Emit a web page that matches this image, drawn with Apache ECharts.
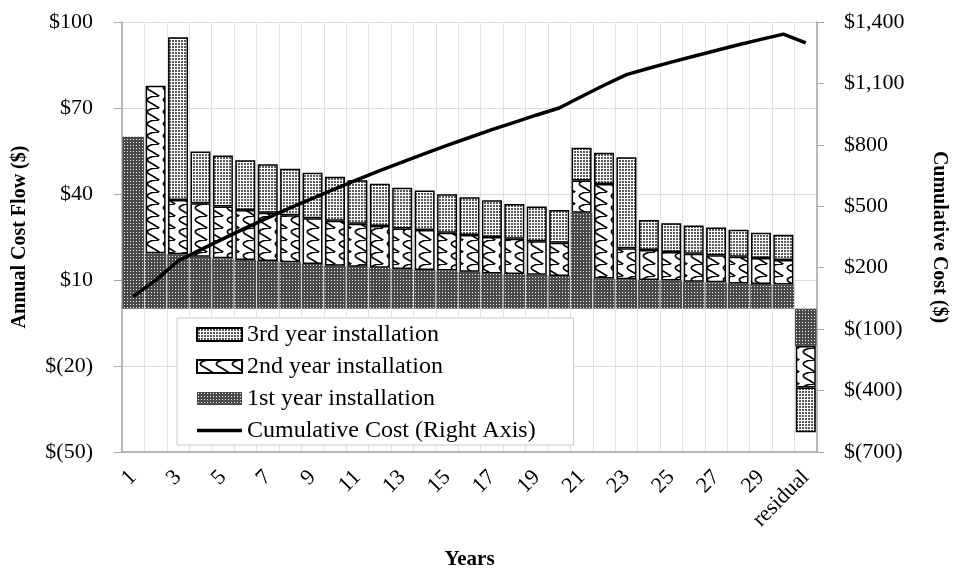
<!DOCTYPE html>
<html>
<head>
<meta charset="utf-8">
<script src="https://cdn.jsdelivr.net/npm/echarts@6/dist/echarts.min.js"></script>
<style>
html,body{margin:0;padding:0;background:#fff;}
#chart{width:953px;height:572px;}
</style>
</head>
<body>
<div id="chart"></div>
<script>
var categories = ['1','2','3','4','5','6','7','8','9','10','11','12','13','14','15','16','17','18','19','20','21','22','23','24','25','26','27','28','29','30','residual'];
var firstYear = [60.0, 19.3, 19.0, 18.1, 17.6, 17.0, 16.6, 16.2, 15.6, 15.0, 14.6, 14.3, 13.8, 13.5, 13.3, 12.9, 12.3, 12.1, 11.8, 11.4, 33.5, 10.5, 10.3, 10.0, 9.8, 9.4, 9.2, 8.8, 8.6, 8.4, -13.0];
var secondYear = [null, 58.5, 18.9, 18.7, 18.0, 17.4, 16.9, 16.4, 15.9, 15.7, 15.0, 14.5, 14.2, 13.9, 13.2, 12.8, 12.7, 12.3, 11.7, 11.6, 11.2, 33.0, 10.8, 10.5, 10.0, 9.8, 9.4, 9.3, 9.1, 8.6, -14.5];
var thirdYear = [null, null, 56.8, 18.0, 17.8, 17.4, 16.9, 16.2, 15.9, 15.3, 15.2, 14.8, 14.2, 13.8, 13.4, 13.2, 12.8, 12.1, 12.1, 11.4, 11.4, 10.9, 31.7, 10.4, 10.0, 9.8, 9.7, 9.4, 8.8, 8.8, -15.6];
var cumulative = [60, 138, 233, 287, 341, 393, 443, 492, 539, 585, 630, 674, 716, 757, 797, 836, 874, 910, 946, 980, 1036, 1091, 1143, 1174, 1204, 1233, 1261, 1289, 1315, 1341, 1298];
var leftTicks = {min: -50, max: 100, interval: 30};
var rightTicks = {min: -700, max: 1400, interval: 300};

var FONT = '"Liberation Serif", "DejaVu Serif", serif';

function makeTile(w, h, draw) {
  var c = document.createElement('canvas');
  c.width = w; c.height = h;
  var ctx = c.getContext('2d');
  draw(ctx, w, h);
  return c;
}
var pat1 = makeTile(3, 3, function (ctx) {
  ctx.fillStyle = '#4a4a4a'; ctx.fillRect(0, 0, 3, 3);
  ctx.fillStyle = '#f0f0f0'; ctx.fillRect(1, 1, 1, 1);
});
var pat3 = makeTile(3, 3, function (ctx) {
  ctx.fillStyle = '#ffffff'; ctx.fillRect(0, 0, 3, 3);
  ctx.fillStyle = '#5a5a5a'; ctx.fillRect(1, 1, 2, 2);
});
var pat2 = makeTile(16, 12, function (ctx) {
  ctx.fillStyle = '#ffffff'; ctx.fillRect(0, 0, 16, 12);
  ctx.strokeStyle = '#000'; ctx.lineWidth = 1.6;
  ctx.beginPath();
  ctx.moveTo(15, 0);
  ctx.bezierCurveTo(4, 0, 1, 4, 5, 6);
  ctx.bezierCurveTo(9, 8, 12, 10, 15, 12);
  ctx.stroke();
  ctx.beginPath();
  ctx.moveTo(15, 12);
  ctx.quadraticCurveTo(16, 12.5, 17, 13);
  ctx.stroke();
});

function leftFmt(v) { return v < 0 ? '$(' + (-v) + ')' : '$' + v; }
function rightFmt(v) {
  var s = Math.abs(v).toLocaleString('en-US');
  return v < 0 ? '$(' + s + ')' : '$' + s;
}

var chart = echarts.init(document.getElementById('chart'), null, {renderer: 'canvas'});
var axisLineColor = '#a6a6a6';
var option = {
  animation: false,
  backgroundColor: '#fff',
  textStyle: {fontFamily: FONT, color: '#000'},
  grid: {left: 122, right: 136, top: 22, bottom: 120, containLabel: false, outerBoundsMode: 'none'},
  legend: {
    orient: 'vertical',
    left: 177, top: 318,
    backgroundColor: '#fff',
    borderColor: '#c8c8c8', borderWidth: 1,
    padding: [4, 38, 2, 19],
    itemWidth: 45, itemHeight: 13, itemGap: 7,
    textStyle: {fontFamily: FONT, fontSize: 24, color: '#000', lineHeight: 25},
    data: [
      {name: '3rd year installation', icon: 'rect'},
      {name: '2nd year installation', icon: 'rect'},
      {name: '1st year installation', icon: 'rect'},
      {name: 'Cumulative Cost (Right Axis)', icon: 'path://M0,0 L45,0 L45,3.5 L0,3.5 Z'}]
  },
  xAxis: [{
    type: 'category', data: categories, gridIndex: 0, position: 'bottom',
    axisLine: {onZero: false, lineStyle: {color: axisLineColor, width: 1.5}},
    axisTick: {show: true, interval: 0, length: 0, lineStyle: {color: '#ddd'}},
    splitLine: {show: true, interval: 0, lineStyle: {color: '#e2e2e2', width: 1}},
    axisLabel: {interval: 1, rotate: 45, fontSize: 22, fontFamily: FONT, color: '#000', margin: 22},
    name: 'Years', nameLocation: 'middle', nameGap: 97,
    nameTextStyle: {fontFamily: FONT, fontSize: 21, fontWeight: 'bold', color: '#000'}
  }, {
    type: 'category', data: categories, gridIndex: 0, position: 'bottom', show: false
  }],
  yAxis: [{
    type: 'value', min: leftTicks.min, max: leftTicks.max, interval: leftTicks.interval,
    axisLine: {show: true, lineStyle: {color: axisLineColor, width: 1.5}},
    axisTick: {show: true, length: 8, lineStyle: {color: axisLineColor}},
    splitLine: {show: true, lineStyle: {color: '#dcdcdc', width: 1}},
    axisLabel: {formatter: leftFmt, fontSize: 22, fontFamily: FONT, color: '#000', margin: 29},
    name: 'Annual Cost Flow ($)', nameLocation: 'middle', nameGap: 92, nameRotate: 90,
    nameTextStyle: {fontFamily: FONT, fontSize: 20, fontWeight: 'bold', color: '#000'}
  }, {
    type: 'value', min: rightTicks.min, max: rightTicks.max, interval: rightTicks.interval,
    position: 'right',
    axisLine: {show: true, lineStyle: {color: axisLineColor, width: 1.5}},
    axisTick: {show: true, length: 7, lineStyle: {color: axisLineColor}},
    splitLine: {show: false},
    axisLabel: {formatter: rightFmt, fontSize: 22, fontFamily: FONT, color: '#000', margin: 27},
    name: 'Cumulative Cost ($)', nameLocation: 'middle', nameGap: 112, nameRotate: -90,
    nameTextStyle: {fontFamily: FONT, fontSize: 20, fontWeight: 'bold', color: '#000'}
  }],
  series: [{
    name: '1st year installation', type: 'bar', xAxisIndex: 1, yAxisIndex: 0,
    barWidth: 21.5, data: firstYear, z: 1,
    itemStyle: {color: {image: pat1, repeat: 'repeat'}}
  }, {
    name: 'base', type: 'bar', xAxisIndex: 0, yAxisIndex: 0, stack: 'top',
    barWidth: 20, data: firstYear, silent: true, z: 2,
    itemStyle: {color: 'rgba(0,0,0,0)', borderWidth: 0}
  }, {
    name: '2nd year installation', type: 'bar', xAxisIndex: 0, yAxisIndex: 0, stack: 'top',
    barWidth: 20, data: secondYear, z: 2,
    itemStyle: {color: {image: pat2, repeat: 'repeat'}, borderColor: '#000', borderWidth: 1.5}
  }, {
    name: '3rd year installation', type: 'bar', xAxisIndex: 0, yAxisIndex: 0, stack: 'top',
    barWidth: 20, data: thirdYear, z: 2,
    itemStyle: {color: {image: pat3, repeat: 'repeat'}, borderColor: '#000', borderWidth: 1.5}
  }, {
    name: 'Cumulative Cost (Right Axis)', type: 'line', xAxisIndex: 0, yAxisIndex: 1,
    data: cumulative, symbol: 'none', showSymbol: false, z: 3,
    lineStyle: {color: '#000', width: 3.5},
    itemStyle: {color: '#000'}
  }]
};
chart.setOption(option);
</script>
</body>
</html>
